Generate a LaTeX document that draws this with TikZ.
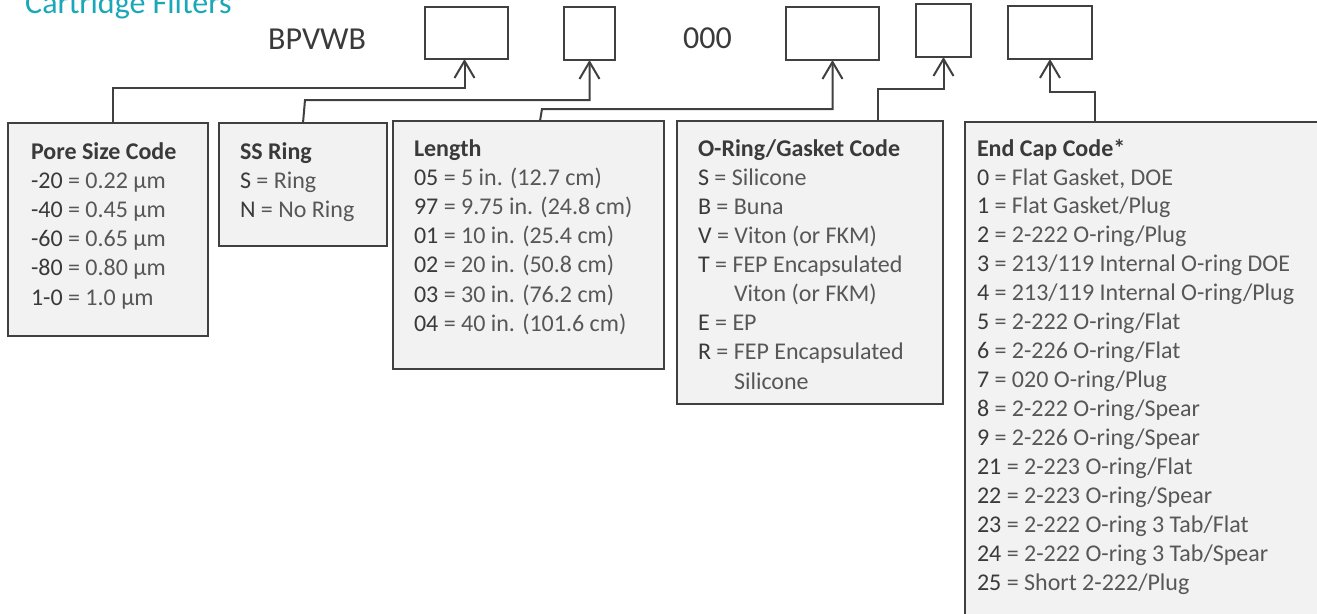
\documentclass[tikz,border=0pt]{standalone}
\usepackage{fontspec}
\setmainfont{Carlito}
\usetikzlibrary{arrows.meta}
\definecolor{edgec}{HTML}{404040}
\definecolor{boxfill}{HTML}{F2F2F2}
\definecolor{titlec}{HTML}{1AA8B9}
\definecolor{codec}{HTML}{3A3A3A}
\definecolor{descc}{HTML}{575757}
\newcommand\codeline[2]{\textcolor{codec}{#1} \textcolor{descc}{= #2}}
\begin{document}
\begin{tikzpicture}[x=1pt,y=-1pt,
  smallbox/.style={draw=edgec,line width=2pt,fill=white,inner sep=0pt,outer sep=0pt,anchor=north west},
  bigbox/.style={draw=edgec,line width=2pt,fill=boxfill,inner sep=0pt,outer sep=0pt,anchor=north west},
  conn/.style={draw=edgec,line width=2pt,-{Straight Barb[length=17pt,width=20pt,line width=2pt]}},
  txt/.style={anchor=base west,inner sep=0pt,outer sep=0pt,font=\fontsize{24}{29}\selectfont},
  head/.style={txt,text=codec,font=\fontsize{24}{29}\selectfont\bfseries},
  big/.style={anchor=base west,inner sep=0pt,font=\fontsize{32}{38}\selectfont}]
\useasboundingbox (0,0) rectangle (1317,613);
\fill[white] (0,0) rectangle (1317,613);

% title
\node[big,text=titlec] (title) at (25,13) {Cartridge Filters};
\node[big,text=codec] (prefix) at (268,49) {BPVWB};
\node[big,text=codec] (mid) at (683,48) {000};

% small code boxes
\node[smallbox,minimum width=83pt,minimum height=52pt] (b1) at (425,7) {};
\node[smallbox,minimum width=51pt,minimum height=53pt] (b2) at (564,7) {};
\node[smallbox,minimum width=93pt,minimum height=53pt] (b3) at (786,7) {};
\node[smallbox,minimum width=55pt,minimum height=53pt] (b4) at (916,4) {};
\node[smallbox,minimum width=84pt,minimum height=53pt] (b5) at (1008,6) {};

% big boxes
\node[bigbox,minimum width=200pt,minimum height=213pt] (pore) at (8,123) {};
\node[bigbox,minimum width=168pt,minimum height=123pt] (ss) at (219,123) {};
\node[bigbox,minimum width=271pt,minimum height=248pt] (len) at (393,121) {};
\node[bigbox,minimum width=266pt,minimum height=283pt] (oring) at (677,121) {};
\node[bigbox,minimum width=375pt,minimum height=518pt] (endcap) at (965,122) {};

% connectors
\draw[conn] ([xshift=105pt]pore.north west) -- ++(0,-35) -| ([xshift=-2pt]b1.south);
\draw[conn] (ss.north) -- ++(2,-23) -| (b2.south);
\draw[conn] ([xshift=147pt]len.north west) -- ++(2,-12) -| (b3.south);
\draw[conn] ([xshift=201pt]oring.north west) -- ++(0,-32) -| (b4.south);
\draw[conn] ([xshift=130pt]endcap.north west) -- ++(0,-30) -| (b5.south);

% Pore size
\node[head] (p0) at (31,159) {Pore Size Code};
\node[txt] (p1) at (31,188.2) {\codeline{-20}{0.22 µm}};
\node[txt] (p2) at (31,217.4) {\codeline{-40}{0.45 µm}};
\node[txt] (p3) at (31,246.6) {\codeline{-60}{0.65 µm}};
\node[txt] (p4) at (31,275.8) {\codeline{-80}{0.80 µm}};
\node[txt] (p5) at (31,305) {\codeline{1-0}{1.0 µm}};

% SS ring
\node[head] (s0) at (240,159) {SS Ring};
\node[txt] (s1) at (240,188.5) {\codeline{S}{Ring}};
\node[txt] (s2) at (240,217.7) {\codeline{N}{No Ring}};

% Length
\node[head] (l0) at (414,156) {Length};
\node[txt] (l1) at (414,185.2) {\codeline{05}{5 in. (12.7 cm)}};
\node[txt] (l2) at (414,214.4) {\codeline{97}{9.75 in. (24.8 cm)}};
\node[txt] (l3) at (414,243.6) {\codeline{01}{10 in. (25.4 cm)}};
\node[txt] (l4) at (414,272.8) {\codeline{02}{20 in. (50.8 cm)}};
\node[txt] (l5) at (414,302) {\codeline{03}{30 in. (76.2 cm)}};
\node[txt] (l6) at (414,331.2) {\codeline{04}{40 in. (101.6 cm)}};

% O-ring
\node[head] (o0) at (698,156) {O-Ring/Gasket Code};
\node[txt] (o1) at (698,185) {\codeline{S}{Silicone}};
\node[txt] (o2) at (698,214) {\codeline{B}{Buna}};
\node[txt] (o3) at (698,243) {\codeline{V}{Viton (or FKM)}};
\node[txt] (o4) at (698,272) {\codeline{T}{FEP Encapsulated}};
\node[txt,text=descc] (o5) at (734,301) {Viton (or FKM)};
\node[txt] (o6) at (698,330.5) {\codeline{E}{EP}};
\node[txt] (o7) at (698,359.5) {\codeline{R}{FEP Encapsulated}};
\node[txt,text=descc] (o8) at (734,389) {Silicone};

% End cap
\node[head] (e0) at (977,156) {End Cap Code*};
\node[txt] (e1) at (977,185) {\codeline{0}{Flat Gasket, DOE}};
\node[txt] (e2) at (977,213.95) {\codeline{1}{Flat Gasket/Plug}};
\node[txt] (e3) at (977,242.9) {\codeline{2}{2-222 O-ring/Plug}};
\node[txt] (e4) at (977,271.85) {\codeline{3}{213/119 Internal O-ring DOE}};
\node[txt] (e5) at (977,300.8) {\codeline{4}{213/119 Internal O-ring/Plug}};
\node[txt] (e6) at (977,329.75) {\codeline{5}{2-222 O-ring/Flat}};
\node[txt] (e7) at (977,358.7) {\codeline{6}{2-226 O-ring/Flat}};
\node[txt] (e8) at (977,387.65) {\codeline{7}{020 O-ring/Plug}};
\node[txt] (e9) at (977,416.6) {\codeline{8}{2-222 O-ring/Spear}};
\node[txt] (e10) at (977,445.55) {\codeline{9}{2-226 O-ring/Spear}};
\node[txt] (e11) at (977,474.5) {\codeline{21}{2-223 O-ring/Flat}};
\node[txt] (e12) at (977,503.45) {\codeline{22}{2-223 O-ring/Spear}};
\node[txt] (e13) at (977,532.4) {\codeline{23}{2-222 O-ring 3 Tab/Flat}};
\node[txt] (e14) at (977,561.35) {\codeline{24}{2-222 O-ring 3 Tab/Spear}};
\node[txt] (e15) at (977,590.3) {\codeline{25}{Short 2-222/Plug}};
\end{tikzpicture}
\end{document}
